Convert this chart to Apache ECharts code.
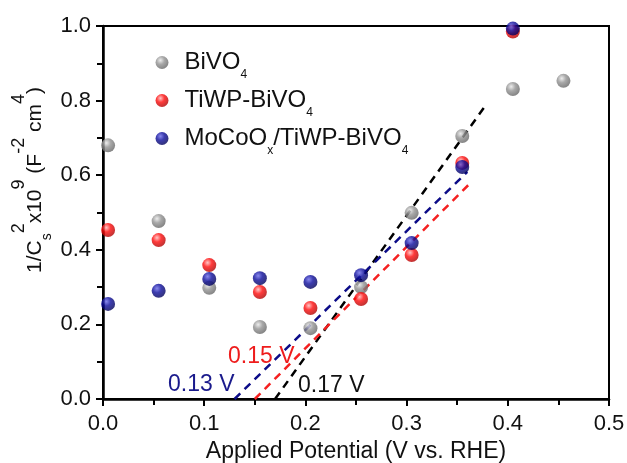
<!DOCTYPE html>
<html><head><meta charset="utf-8">
<script src="https://cdn.jsdelivr.net/npm/echarts@6/dist/echarts.min.js"></script>
<style>html,body{margin:0;padding:0;background:#fff}#c{width:627px;height:463px}</style>
</head><body><div id="c"></div>
<script>
var potentials = [0.005, 0.055, 0.105, 0.155, 0.205, 0.255, 0.305, 0.355, 0.405, 0.455, 0.505];
var bivo4 = [0.68, 0.477, 0.298, 0.193, 0.19, 0.30, 0.499, 0.705, 0.831, 0.853, 0.78];
var tiwp = [0.453, 0.426, 0.359, 0.287, 0.244, 0.268, 0.386, 0.633, 0.985];
var mocoo = [0.255, 0.29, 0.322, 0.324, 0.314, 0.332, 0.418, 0.622, 0.993];
var fitBlack = [[0.17, 0], [0.377, 0.783]];
var fitBlue = [[0.13, 0], [0.36, 0.609]];
var fitRed = [[0.15, 0], [0.363, 0.579]];
var onsetLabels = ['0.15 V', '0.13 V', '0.17 V'];

function pairs(xs, ys){ return ys.map(function(v,i){ return [xs[i], v]; }); }
function sphere(light, base, dark){
  return {type:'radial', x:0.38, y:0.33, r:0.68, colorStops:[
    {offset:0, color:light},{offset:0.45, color:base},{offset:1, color:dark}]};
}
var FONT = '"Liberation Sans", Arial, sans-serif';
var chart = echarts.init(document.getElementById('c'));
var legendRich = {
  n:{fontSize:24, fontFamily:FONT, color:'#111', lineHeight:24, verticalAlign:'middle'},
  sub:{fontSize:12, fontFamily:FONT, color:'#111', lineHeight:37, verticalAlign:'bottom'}
};
var legendNames = {
  'BiVO4':'{n|BiVO}{sub|4}',
  'TiWP-BiVO4':'{n|TiWP-BiVO}{sub|4}',
  'MoCoOx/TiWP-BiVO4':'{n|MoCoO}{sub|x}{n|/TiWP-BiVO}{sub|4}'
};
var titleRich = {
  n:{fontSize:21, fontFamily:FONT, fill:'#111', height:29, lineHeight:38, verticalAlign:'bottom'},
  sub:{fontSize:14, fontFamily:FONT, fill:'#111', height:5, lineHeight:5, verticalAlign:'bottom'},
  sup:{fontSize:18, fontFamily:FONT, fill:'#111', height:15, lineHeight:15, verticalAlign:'top'}
};
chart.setOption({
  animation:false,
  backgroundColor:'#fff',
  grid:{left:103, right:18, top:26, bottom:64, outerBoundsMode:'none', containLabel:false,
    show:true, borderColor:'#000', borderWidth:2, backgroundColor:'transparent'},
  legend:{
    orient:'vertical', left:150.5, top:45.5, itemWidth:13, itemHeight:13, itemGap:7.5,
    icon:'circle',
    data:['BiVO4','TiWP-BiVO4','MoCoOx/TiWP-BiVO4'],
    formatter:function(n){ return legendNames[n]; },
    textStyle:{rich:legendRich, padding:[0,0,0,11]}
  },
  xAxis:{
    type:'value', min:0, max:0.5, interval:0.1,
    name:'Applied Potential (V vs. RHE)', nameLocation:'middle', nameGap:39,
    nameTextStyle:{fontSize:23, fontFamily:FONT, color:'#111'},
    axisLine:{lineStyle:{color:'#000', width:2.5}},
    axisTick:{inside:false, length:7, lineStyle:{color:'#000', width:2}},
    minorTick:{show:true, splitNumber:2, length:6, lineStyle:{color:'#000', width:2}},
    splitLine:{show:false},
    axisLabel:{fontSize:22, fontFamily:FONT, color:'#111', margin:14,
      formatter:function(v){ return v.toFixed(1); }}
  },
  yAxis:{
    type:'value', min:0, max:1.0, interval:0.2,
    axisLine:{lineStyle:{color:'#000', width:2.5}},
    axisTick:{inside:false, length:7, lineStyle:{color:'#000', width:2}},
    minorTick:{show:true, splitNumber:2, length:6, lineStyle:{color:'#000', width:2}},
    splitLine:{show:false},
    axisLabel:{fontSize:22, fontFamily:FONT, color:'#111', margin:12,
      formatter:function(v){ return v.toFixed(1); }}
  },
  graphic:[
    {type:'text', x:31, y:180, rotation:Math.PI/2,
      style:{text:'{n|1/C}{sub|s}{sup|2}{n|x10}{sup|9}{n| (F}{sup|-2}{n| cm}{sup|4}{n|)}',
        rich:titleRich, align:'center', verticalAlign:'middle', fill:'#111'}},
    {type:'text', left:228, top:345, style:{text:onsetLabels[0], fontSize:23, fontFamily:FONT, fill:'#ee1c1c'}},
    {type:'text', left:168, top:373, style:{text:onsetLabels[1], fontSize:23, fontFamily:FONT, fill:'#1a1a8c'}},
    {type:'text', left:298, top:374, style:{text:onsetLabels[2], fontSize:23, fontFamily:FONT, fill:'#111'}}
  ],
  series:[
    {type:'line', data:fitBlack, symbol:'none', silent:true, z:1, lineStyle:{color:'#000', width:2.5, type:[8,6]}},
    {type:'line', data:fitBlue, symbol:'none', silent:true, z:1, lineStyle:{color:'#0c0c88', width:2.5, type:[8,6]}},
    {type:'line', data:fitRed, symbol:'none', silent:true, z:1, lineStyle:{color:'#f52020', width:2.5, type:[8,6]}},
    {name:'BiVO4', type:'scatter', symbolSize:14, z:3, clip:true, data:pairs(potentials, bivo4),
      itemStyle:{color:sphere('#e8e8e8','#939393','#666666')}},
    {name:'TiWP-BiVO4', type:'scatter', symbolSize:14, z:4, data:pairs(potentials, tiwp),
      itemStyle:{color:sphere('#ffb8b8','#ff0a0a','#b00000')}},
    {name:'MoCoOx/TiWP-BiVO4', type:'scatter', symbolSize:14, z:5, data:pairs(potentials, mocoo),
      itemStyle:{color:sphere('#6a6ae8','#0c0c9c','#00005a')}}
  ]
});
</script></body></html>
